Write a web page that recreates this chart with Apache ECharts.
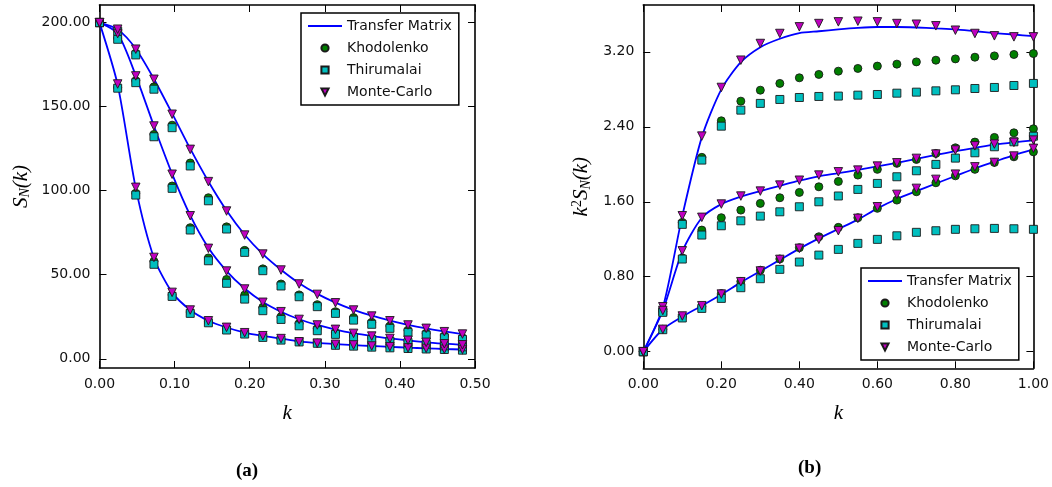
<!DOCTYPE html>
<html>
<head>
<meta charset="utf-8">
<script src="https://cdn.jsdelivr.net/npm/echarts@6/dist/echarts.min.js"></script>
<style>
html,body{margin:0;padding:0;background:#fff;}
#c{width:1052px;height:487px;}
</style>
</head>
<body>
<div id="c"></div>
<script>
// ---------- (a) S_N(k) vs k ----------
const kA = [0.0000, 0.0242, 0.0483, 0.0725, 0.0967, 0.1208, 0.1450, 0.1692, 0.1933, 0.2175, 0.2417,
            0.2658, 0.2900, 0.3142, 0.3383, 0.3625, 0.3867, 0.4108, 0.4350, 0.4592, 0.4833];
// three chain curves (steep, middle, top)
const aTM1 = [200, 163, 101.5, 60, 39.5, 29, 22.6, 18.6, 15.6, 13.6, 12.0, 10.4, 9.4, 8.7, 8.1, 7.6, 7.1, 6.6, 6.2, 5.8, 5.5];
const aKh1 = [200, 161.5, 98.5, 58, 38, 27.8, 22, 17.8, 15, 13.1, 11.5, 10.2, 9.3, 8.3, 7.8, 7.2, 6.8, 6.3, 6.0, 5.7, 5.3];
const aTh1 = [200, 161, 97.4, 56.2, 37.1, 27.0, 21.4, 17.1, 14.7, 12.7, 11.1, 10.0, 9.2, 8.0, 7.5, 6.9, 6.5, 6.1, 5.8, 5.5, 5.1];
const aMC1 = [200, 163.5, 102, 60.3, 39.5, 29.0, 22.6, 18.7, 15.5, 13.7, 12.0, 10.1, 9.3, 8.6, 8.2, 7.6, 7.2, 6.5, 6.2, 5.7, 5.5];

const aTM2 = [200, 193.5, 168.5, 138.5, 110, 85.3, 66, 52.2, 41.8, 33.8, 28.0, 23.5, 20.1, 17.4, 15.2, 13.5, 12.1, 10.9, 9.8, 9.0, 8.3];
const aKh2 = [200, 190.8, 165.5, 133.5, 102.8, 78.0, 60.0, 47.2, 37.9, 30.6, 25.0, 21.0, 18.0, 15.5, 13.7, 12.4, 11.3, 10.3, 9.2, 8.3, 7.7];
const aTh2 = [200, 190.1, 164.3, 132.1, 101.4, 76.6, 58.3, 44.9, 35.5, 28.6, 23.4, 19.6, 16.7, 14.5, 12.7, 11.5, 10.5, 9.7, 8.6, 7.7, 7.1];
const aMC2 = [200, 193.5, 168.3, 138.5, 109.8, 85.1, 65.7, 52.2, 41.5, 33.6, 28.0, 23.4, 20.1, 17.5, 15.1, 13.5, 12.1, 11.0, 9.8, 8.9, 8.3];

const aTM3 = [200, 196, 184.5, 166.5, 146, 125, 105.5, 88.2, 73.8, 62.3, 53, 45, 38.6, 33.4, 29.1, 25.6, 22.7, 20.2, 18.1, 16.3, 14.7];
const aKh3 = [200, 195.3, 181.8, 161.8, 139.0, 116.5, 95.8, 78.5, 64.5, 53.5, 44.5, 38.0, 32.2, 28.0, 24.5, 21.7, 19.5, 17.0, 15.2, 13.6, 12.5];
const aTh3 = [200, 194.9, 180.8, 160.4, 137.5, 114.7, 94.0, 77.2, 63.3, 52.4, 43.3, 36.9, 31.0, 27.0, 23.0, 20.5, 18.1, 15.7, 14.1, 12.5, 11.5];
const aMC3 = [200, 196.1, 184.2, 166.3, 145.5, 124.6, 105.4, 87.9, 73.6, 62.3, 52.8, 44.5, 38.3, 33.3, 29.0, 25.4, 22.6, 20.1, 18.1, 16.1, 14.7];

const aYTicks = [0, 50, 100, 150, 200];

// ---------- (b) k^2 S_N(k) vs k ----------
const kB = [0, 0.05, 0.10, 0.15, 0.20, 0.25, 0.30, 0.35, 0.40, 0.45, 0.50,
            0.55, 0.60, 0.65, 0.70, 0.75, 0.80, 0.85, 0.90, 0.95, 1.00];
const bTM1 = [0, 0.47, 1.45, 2.29, 2.80, 3.09, 3.25, 3.34, 3.40, 3.42, 3.44, 3.456, 3.465, 3.465, 3.46, 3.45, 3.44, 3.42, 3.40, 3.385, 3.367];
const bKh1 = [0, 0.45, 1.38, 2.074, 2.464, 2.674, 2.791, 2.863, 2.923, 2.959, 2.994, 3.023, 3.048, 3.069, 3.093, 3.111, 3.125, 3.143, 3.157, 3.172, 3.182];
const bTh1 = [0, 0.43, 1.359, 2.045, 2.407, 2.578, 2.65, 2.692, 2.713, 2.724, 2.728, 2.738, 2.745, 2.759, 2.770, 2.784, 2.795, 2.809, 2.820, 2.841, 2.863];
const bMC1 = [0, 0.48, 1.451, 2.301, 2.820, 3.111, 3.289, 3.396, 3.467, 3.502, 3.520, 3.527, 3.520, 3.502, 3.495, 3.478, 3.431, 3.396, 3.371, 3.36, 3.36];

const bTM2 = [0, 0.44, 1.07, 1.43, 1.575, 1.655, 1.714, 1.77, 1.825, 1.872, 1.905, 1.94, 1.977, 2.015, 2.058, 2.1, 2.14, 2.175, 2.21, 2.235, 2.255];
const bKh2 = [0, 0.43, 1.00, 1.298, 1.43, 1.511, 1.583, 1.643, 1.70, 1.760, 1.817, 1.885, 1.946, 2.01, 2.052, 2.116, 2.176, 2.237, 2.287, 2.336, 2.379];
const bTh2 = [0, 0.42, 0.989, 1.245, 1.344, 1.397, 1.447, 1.493, 1.547, 1.60, 1.662, 1.732, 1.796, 1.867, 1.931, 1.999, 2.066, 2.123, 2.187, 2.24, 2.30];
const bMC2 = [0, 0.44, 1.077, 1.434, 1.576, 1.661, 1.714, 1.778, 1.83, 1.885, 1.92, 1.938, 1.981, 2.016, 2.063, 2.109, 2.152, 2.197, 2.216, 2.234, 2.258];

const bTM3 = [0, 0.24, 0.375, 0.49, 0.61, 0.74, 0.86, 0.98, 1.10, 1.21, 1.31, 1.41, 1.53, 1.63, 1.714, 1.795, 1.875, 1.955, 2.027, 2.098, 2.16];
const bKh3 = [0, 0.24, 0.375, 0.48, 0.62, 0.75, 0.87, 0.99, 1.11, 1.227, 1.327, 1.43, 1.53, 1.618, 1.707, 1.803, 1.877, 1.946, 2.02, 2.08, 2.133];
const bTh3 = [0, 0.235, 0.36, 0.462, 0.569, 0.683, 0.779, 0.879, 0.957, 1.031, 1.092, 1.156, 1.199, 1.237, 1.274, 1.291, 1.306, 1.312, 1.316, 1.312, 1.306];
const bMC3 = [0, 0.239, 0.381, 0.491, 0.615, 0.747, 0.861, 0.985, 1.103, 1.199, 1.291, 1.423, 1.547, 1.679, 1.743, 1.839, 1.895, 1.973, 2.02, 2.088, 2.17];

const bYTicks = [0, 0.8, 1.6, 2.4, 3.2];

const seriesNames = ['Transfer Matrix', 'Khodolenko', 'Thirumalai', 'Monte-Carlo'];

// ---------- build ----------
const FONT = 'DejaVu Sans';
const pair = (xs, ys) => xs.map((x, i) => [x, ys[i]]);
const triDown = 'path://M0,0L2,0L1,2Z';

function tmSeries(idx, xs, ys) {
  return { type: 'line', name: seriesNames[0], xAxisIndex: idx, yAxisIndex: idx, data: pair(xs, ys),
    symbol: 'circle', showSymbol: false, smooth: 0.25, z: 2,
    lineStyle: { color: '#0000ff', width: 1.8 }, itemStyle: { color: '#0000ff' } };
}
function markSeries(idx, nameIdx, xs, ys) {
  const st = [null,
    { symbol: 'circle', color: '#007f00', size: 8, z: 3 },
    { symbol: 'rect', color: '#00bfbf', size: 8, z: 4 },
    { symbol: triDown, color: '#bf00bf', size: 8.5, z: 5 }][nameIdx];
  return { type: 'line', name: seriesNames[nameIdx], xAxisIndex: idx, yAxisIndex: idx, data: pair(xs, ys),
    symbol: st.symbol, symbolSize: st.size, showSymbol: true, clip: false, z: st.z,
    lineStyle: { opacity: 0, width: 1 },
    itemStyle: { color: st.color, borderColor: '#1a1a1a', borderWidth: 0.9 } };
}

const groupsA = [[aTM1, aKh1, aTh1, aMC1], [aTM2, aKh2, aTh2, aMC2], [aTM3, aKh3, aTh3, aMC3]];
const groupsB = [[bTM1, bKh1, bTh1, bMC1], [bTM2, bKh2, bTh2, bMC2], [bTM3, bKh3, bTh3, bMC3]];
const series = [];
groupsA.forEach(g => series.push(tmSeries(0, kA, g[0])));
groupsA.forEach(g => { for (let j = 1; j < 4; j++) series.push(markSeries(0, j, kA, g[j])); });
groupsB.forEach(g => series.push(tmSeries(2, kB, g[0])));
groupsB.forEach(g => { for (let j = 1; j < 4; j++) series.push(markSeries(2, j, kB, g[j])); });

const lineSt = { show: true, onZero: false, lineStyle: { color: '#000', width: 1.6 } };
const tickSt = (cv) => Object.assign({ show: true, inside: true, length: 7, lineStyle: { color: '#000', width: 1 } }, cv ? { customValues: cv } : {});
const lab = (fmt, margin, cv) => Object.assign({ show: true, fontFamily: FONT, fontSize: 14, color: '#111', margin: margin, formatter: fmt }, cv ? { customValues: cv } : {});
const f2 = v => Number(v).toFixed(2);

const mathRich = {
  i: { fontFamily: 'Liberation Serif', fontStyle: 'italic', fontSize: 21, color: '#000' },
  s: { fontFamily: 'Liberation Serif', fontStyle: 'italic', fontSize: 14, color: '#000', padding: [9, 0, 0, 0] },
  p: { fontFamily: 'Liberation Serif', fontSize: 14, color: '#000', padding: [0, 0, 9, 0] }
};

function xAxes(gi, max, interval) {
  return [
    { type: 'value', gridIndex: gi, position: 'bottom', min: 0, max: max, interval: interval,
      axisLine: lineSt, axisTick: tickSt(), axisLabel: lab(f2, 9), splitLine: { show: false },
      name: '{i|k}', nameLocation: 'middle', nameGap: 35, nameTextStyle: { rich: mathRich } },
    { type: 'value', gridIndex: gi, position: 'top', min: 0, max: max, interval: interval,
      axisLine: lineSt, axisTick: tickSt(), axisLabel: { show: false }, splitLine: { show: false } }
  ];
}
function yAxes(gi, min, max, ticks, name, gap) {
  return [
    { type: 'value', gridIndex: gi, position: 'left', min: min, max: max,
      axisLine: lineSt, axisTick: tickSt(ticks), axisLabel: lab(f2, 9, ticks), splitLine: { show: false },
      name: name, nameLocation: 'middle', nameGap: gap, nameRotate: 90, nameTextStyle: { rich: mathRich } },
    { type: 'value', gridIndex: gi, position: 'right', min: min, max: max,
      axisLine: lineSt, axisTick: tickSt(ticks), axisLabel: { show: false }, splitLine: { show: false } }
  ];
}

const xa = xAxes(0, 0.5, 0.1).concat(xAxes(1, 1.0, 0.2));
const ya = yAxes(0, -5.5, 210.5, aYTicks, '{i|S}{s|N}{i|(k)}', 67).concat(
           yAxes(1, -0.177, 3.70, bYTicks, '{i|k}{p|2}{i|S}{s|N}{i|(k)}', 50));

function legend(left, top) {
  return {
    left: left, top: top, orient: 'vertical', z: 10,
    backgroundColor: '#fff', borderColor: '#000', borderWidth: 1.5, borderRadius: 0,
    padding: [6, 7, 6, 6], itemGap: 8, itemWidth: 34, itemHeight: 9,
    textStyle: { fontFamily: FONT, fontSize: 14, color: '#111', lineHeight: 14 },
    selectedMode: false,
    data: [
      { name: 'Transfer Matrix', itemStyle: { opacity: 0 } },
      { name: 'Khodolenko' }, { name: 'Thirumalai' }, { name: 'Monte-Carlo' }
    ]
  };
}

const chart = echarts.init(document.getElementById('c'), null, { renderer: 'canvas' });
chart.setOption({
  animation: false,
  backgroundColor: '#fff',
  grid: [
    { left: 99.5, top: 5, width: 375.5, height: 363 },
    { left: 643.3, top: 5, width: 391.7, height: 363.3 }
  ],
  xAxis: xa,
  yAxis: ya,
  legend: [legend(301, 13), legend(861, 268)],
  series: series,
  graphic: [
    { type: 'text', left: 236, top: 462, style: { text: '(a)', fontFamily: 'Liberation Serif', fontWeight: 'bold', fontSize: 19, fill: '#000' } },
    { type: 'text', left: 798, top: 459, style: { text: '(b)', fontFamily: 'Liberation Serif', fontWeight: 'bold', fontSize: 19, fill: '#000' } }
  ]
});
</script>
</body>
</html>
